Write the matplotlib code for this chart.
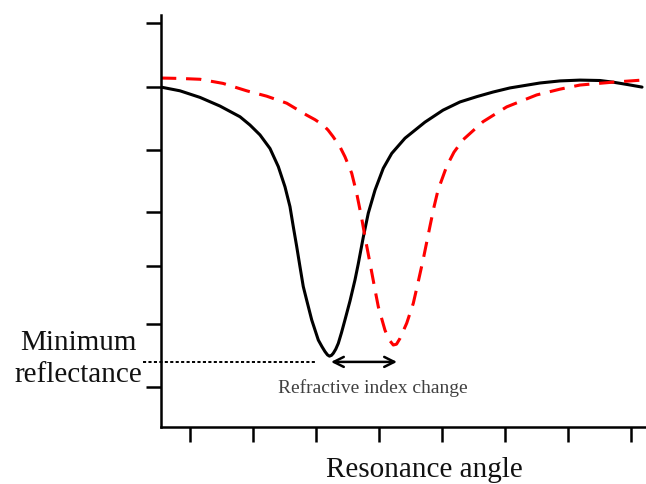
import matplotlib
matplotlib.use('Agg')
import matplotlib.pyplot as plt

# resonance angle (arbitrary units) and reflectance
angle_before = [0.540, 0.841, 1.159, 1.476, 1.794, 1.952, 2.111, 2.270, 2.402, 2.508,
                2.587, 2.640, 2.694, 2.746, 2.798, 2.852, 2.932, 3.037, 3.095, 3.143,
                3.183, 3.214, 3.246, 3.275, 3.314, 3.354, 3.405, 3.460, 3.540, 3.619,
                3.671, 3.751, 3.830, 3.937, 4.068, 4.202, 4.413, 4.730, 5.016, 5.286,
                5.556, 5.810, 6.079, 6.556, 6.873, 7.190, 7.508, 7.714, 7.952, 8.175]
refl_before = [0.825, 0.816, 0.800, 0.779, 0.753, 0.733, 0.709, 0.676, 0.632, 0.583,
               0.535, 0.486, 0.438, 0.389, 0.341, 0.308, 0.260, 0.211, 0.195, 0.183,
               0.175, 0.172, 0.174, 0.179, 0.189, 0.203, 0.229, 0.260, 0.306, 0.357,
               0.396, 0.461, 0.519, 0.575, 0.628, 0.664, 0.701, 0.740, 0.769, 0.789,
               0.802, 0.813, 0.823, 0.835, 0.840, 0.842, 0.841, 0.837, 0.831, 0.825]

angle_after = [0.540, 0.841, 1.159, 1.524, 1.900, 2.217, 2.535, 2.852, 2.984, 3.111,
               3.190, 3.270, 3.381, 3.460, 3.567, 3.646, 3.725, 3.778, 3.857, 3.937,
               3.989, 4.095, 4.159, 4.227, 4.278, 4.333, 4.440, 4.544, 4.619, 4.706,
               4.810, 4.873, 4.937, 5.075, 5.190, 5.333, 5.651, 6.027, 6.503, 6.873,
               7.190, 7.714, 8.175]
refl_after = [0.847, 0.846, 0.844, 0.834, 0.816, 0.803, 0.786, 0.757, 0.746, 0.733,
              0.721, 0.705, 0.680, 0.656, 0.616, 0.567, 0.507, 0.461, 0.398, 0.333,
              0.292, 0.235, 0.212, 0.199, 0.201, 0.215, 0.252, 0.300, 0.350, 0.410,
              0.488, 0.534, 0.575, 0.633, 0.667, 0.697, 0.741, 0.777, 0.806, 0.820,
              0.830, 0.837, 0.842]

x_ticks = [1, 2, 3, 4, 5, 6, 7, 8]
y_ticks = [0.097, 0.250, 0.391, 0.522, 0.672, 0.825, 0.981]

min_level = 0.158
shift_start = 3.238
shift_end = 4.286

plt.rcParams['font.family'] = ['Liberation Serif', 'DejaVu Serif']

fig = plt.figure(figsize=(6.46, 4.84), dpi=100)
ax = fig.add_axes([161 / 646, 57 / 484, 485 / 646, 412 / 484])

ax.plot(angle_before, refl_before, color='black', lw=2.2,
        solid_joinstyle='round', solid_capstyle='round')
ax.plot(angle_after, refl_after, color='red', lw=2.2, dashes=(5, 3.2),
        dash_joinstyle='round')

# minimum reflectance marker and the shift arrow
ax.plot([0.254, 3.016], [min_level, min_level], color='black', lw=1.4,
        dashes=(1.6, 1.2), clip_on=False)
ax.annotate('', xy=(shift_end, min_level), xytext=(shift_start, min_level),
            arrowprops=dict(arrowstyle='<->', color='black', lw=1.8,
                            mutation_scale=18, shrinkA=0, shrinkB=0))
ax.text(3.905, 0.095, 'Refractive index change', ha='center', va='center',
        fontsize=14, color='#404040')

ax.set_xlim(0.540, 8.238)
ax.set_ylim(0, 1)
ax.set_xticks(x_ticks)
ax.set_yticks(y_ticks)
ax.set_xticklabels([])
ax.set_yticklabels([])
ax.tick_params(direction='out', length=11, width=1.8, color='black')
for side in ['top', 'right']:
    ax.spines[side].set_visible(False)
for side in ['left', 'bottom']:
    ax.spines[side].set_linewidth(1.8)

fig.text(424 / 646, 1 - 470 / 484, 'Resonance angle', ha='center', va='center',
         fontsize=21, color='#111111')
fig.text(78 / 646, 1 - 359 / 484, 'Minimum\nreflectance', ha='center', va='center',
         fontsize=21, color='#111111', linespacing=1.3)

fig.savefig('out.png', dpi=100)
